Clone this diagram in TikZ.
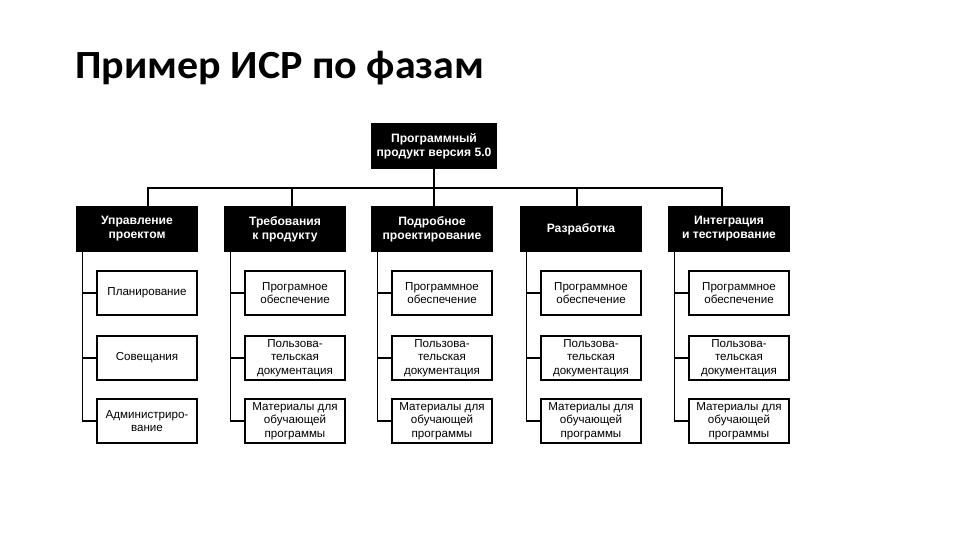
\documentclass[tikz,border=0pt]{standalone}
\usepackage{fontspec}
\setmainfont{Liberation Sans}
\newfontfamily\titlefont{Carlito}
\begin{document}
\begin{tikzpicture}[x=0.75pt,y=-0.75pt,
  blk/.style={draw=black,fill=black,text=white,font=\fontsize{9.1}{10.5}\selectfont\bfseries,
    minimum width=90pt,minimum height=33pt,inner sep=0pt,align=center,line width=0.8pt},
  wbox/.style={draw=black,fill=white,font=\fontsize{8.7}{10.2}\selectfont,
    minimum width=75pt,minimum height=33pt,inner sep=0pt,align=center,line width=1.1pt},
  ln/.style={line width=1pt,black}]
\useasboundingbox (0,0) rectangle (960,540);
\node[anchor=base west,inner sep=0pt,font=\titlefont\bfseries\fontsize{30}{34}\selectfont,xscale=1.05,transform shape] (title) at (75,78) {Пример ИСР по фазам};
% top
\node[blk,minimum width=94pt,minimum height=34pt] (top) at (434,146) {Программный\\продукт версия 5.0};
% parents
\node[blk] (p1) at (137,229) {Управление\\проектом};
\node[blk] (p2) at (285,229) {Требования\\к продукту};
\node[blk] (p3) at (432,229) {Подробное\\проектирование};
\node[blk] (p4) at (581,229) {Разработка};
\node[blk] (p5) at (729,229) {Интеграция\\и тестирование};
% bus
\coordinate (bus) at (434,188);
\coordinate (d1) at ([xshift=8.25pt]p1.north);
\coordinate (d2) at ([xshift=5.25pt]p2.north);
\coordinate (d3) at ([xshift=1.5pt]p3.north);
\coordinate (d4) at ([xshift=-3pt]p4.north);
\coordinate (d5) at ([xshift=-5.25pt]p5.north);
\draw[ln] (top.south) -- (bus);
\draw[ln] (d1) |- (bus) -| (d5);
\draw[ln] (d2) -- (d2 |- bus);
\draw[ln] (d3) -- (d3 |- bus);
\draw[ln] (d4) -- (d4 |- bus);
% children col1
\node[wbox] (c11) at (147,293) {Планирование};
\node[wbox] (c12) at (147,358) {Совещания};
\node[wbox] (c13) at (147,421) {Администриро-\\вание};
% col2
\node[wbox] (c21) at (295,293) {Програмное\\обеспечение};
\node[wbox] (c22) at (295,358) {Пользова-\\тельская\\документация};
\node[wbox] (c23) at (295,421) {Материалы для\\обучающей\\программы};
% col3
\node[wbox] (c31) at (442,293) {Программное\\обеспечение};
\node[wbox] (c32) at (442,358) {Пользова-\\тельская\\документация};
\node[wbox] (c33) at (442,421) {Материалы для\\обучающей\\программы};
% col4
\node[wbox] (c41) at (591,293) {Программное\\обеспечение};
\node[wbox] (c42) at (591,358) {Пользова-\\тельская\\документация};
\node[wbox] (c43) at (591,421) {Материалы для\\обучающей\\программы};
% col5
\node[wbox] (c51) at (739,293) {Программное\\обеспечение};
\node[wbox] (c52) at (739,358) {Пользова-\\тельская\\документация};
\node[wbox] (c53) at (739,421) {Материалы для\\обучающей\\программы};
% spines
\foreach \i in {1,...,5}{
  \coordinate (s\i) at ([xshift=4.5pt]p\i.south west);
  \draw[ln] (s\i) |- (c\i3.west);
  \draw[ln] (s\i |- c\i1.west) -- (c\i1.west);
  \draw[ln] (s\i |- c\i2.west) -- (c\i2.west);
}
\end{tikzpicture}
\end{document}
